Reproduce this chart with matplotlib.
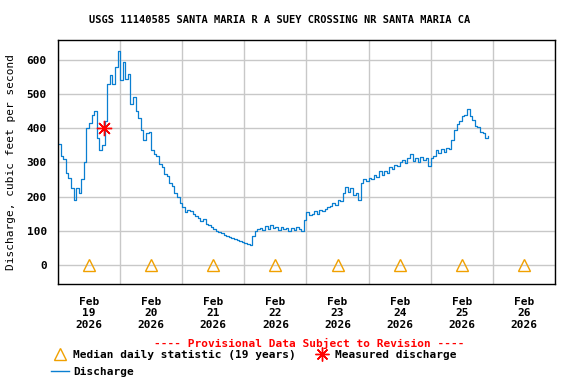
import numpy as np
import pandas as pd
import matplotlib
matplotlib.use('Agg')
import matplotlib.pyplot as plt
import matplotlib.dates as mdates
from matplotlib.lines import Line2D

# hourly discharge (cfs) starting Feb 19 2026 00:00
discharge = [
    355, 320, 310, 270, 255, 225, 190, 225, 210, 250, 300, 400,
    415, 440, 450, 370, 335, 350, 420, 530, 555, 530, 580, 625,
    540, 595, 545, 560, 470, 490, 450, 430, 395, 365, 385, 390,
    335, 325, 320, 295, 285, 265, 260, 240, 230, 210, 200, 180,
    170, 155, 162, 158, 150, 142, 138, 128, 134, 120, 116, 110,
    104, 100, 96, 92, 88, 85, 82, 78, 76, 72, 70, 67,
    64, 60, 57, 85, 100, 104, 108, 102, 114, 106, 116, 108,
    110, 102, 112, 104, 108, 100, 108, 102, 110, 104, 98, 130,
    155, 145, 150, 158, 148, 162, 158, 164, 168, 172, 180, 176,
    190, 188, 210, 228, 212, 226, 205, 210, 190, 240, 250, 245,
    255, 250, 262, 258, 275, 262, 275, 270, 285, 282, 292, 290,
    300, 308, 298, 312, 325, 305, 312, 300, 315, 308, 312, 288,
    312, 318, 335, 328, 340, 330, 342, 338, 365, 395, 412, 420,
    435, 440, 455, 435, 425, 405, 402, 390, 385, 370, 378,
]
start = '2026-02-19 00:00'

median_days = ['2026-02-19 12:00', '2026-02-20 12:00', '2026-02-21 12:00', '2026-02-22 12:00',
               '2026-02-23 12:00', '2026-02-24 12:00', '2026-02-25 12:00', '2026-02-26 12:00']
median_vals = [0, 0, 0, 0, 0, 0, 0, 0]

measured_time = ['2026-02-19 17:45']
measured_vals = [400]

times = pd.date_range(start, periods=len(discharge), freq='h')
median_t = pd.to_datetime(median_days)
meas_t = pd.to_datetime(measured_time)

plt.rcParams['font.family'] = 'DejaVu Sans Mono'
plt.rcParams['font.weight'] = 'bold'
plt.rcParams['font.size'] = 8

fig = plt.figure(figsize=(5.76, 3.84), dpi=100)
ax = fig.add_axes([0.1007, 0.2604, 0.8628, 0.6354])

ax.plot(times, discharge, color='#0a7fd1', lw=0.9, drawstyle='steps-post')
ax.plot(median_t, median_vals, ls='none', marker='^', ms=8, mfc='none', mec='#f0a000', mew=1.0)
ax.plot(meas_t, measured_vals, ls='none', marker=(8, 2, 0), ms=11, color='red', mew=1.0)

ax.set_xlim(pd.Timestamp('2026-02-19'), pd.Timestamp('2026-02-27'))
ax.set_ylim(-56, 658)
ax.set_yticks(range(0, 700, 100))

ax.xaxis.set_major_locator(mdates.HourLocator(byhour=12))
ax.xaxis.set_major_formatter(mdates.DateFormatter('%b\n%d\n%Y'))
ax.xaxis.set_minor_locator(mdates.HourLocator(byhour=0))
ax.grid(True, which='minor', axis='x', color='#c8c8c8', lw=1)
ax.grid(True, which='major', axis='y', color='#c8c8c8', lw=1)
ax.tick_params(axis='both', which='both', length=0)
ax.tick_params(axis='x', pad=9)
ax.tick_params(axis='y', pad=8)
for s in ax.spines.values():
    s.set_linewidth(1.0)

ax.set_ylabel('Discharge, cubic feet per second', labelpad=8)
fig.text(280 / 576, 1 - 20 / 384, 'USGS 11140585 SANTA MARIA R A SUEY CROSSING NR SANTA MARIA CA',
         ha='center', va='center', fontsize=7.5, fontweight='bold')

fig.text(0.537, 1 - 343 / 384, '---- Provisional Data Subject to Revision ----',
         color='red', ha='center', va='center')

handles = [
    Line2D([], [], ls='none', marker='^', ms=8, mfc='none', mec='#f0a000'),
    Line2D([], [], color='#0a7fd1', lw=1),
    Line2D([], [], ls='none', marker=(8, 2, 0), ms=10, color='red'),
]
labels = ['Median daily statistic (19 years)', 'Discharge', 'Measured discharge']
fig.legend(handles, labels, ncol=2, loc='upper left', bbox_to_anchor=(0.089, 1 - 350 / 384),
           frameon=False, handlelength=1.6, handletextpad=0.4, columnspacing=1.5,
           labelspacing=0.6, borderpad=0, borderaxespad=0)

fig.savefig('out.png', dpi=100)
